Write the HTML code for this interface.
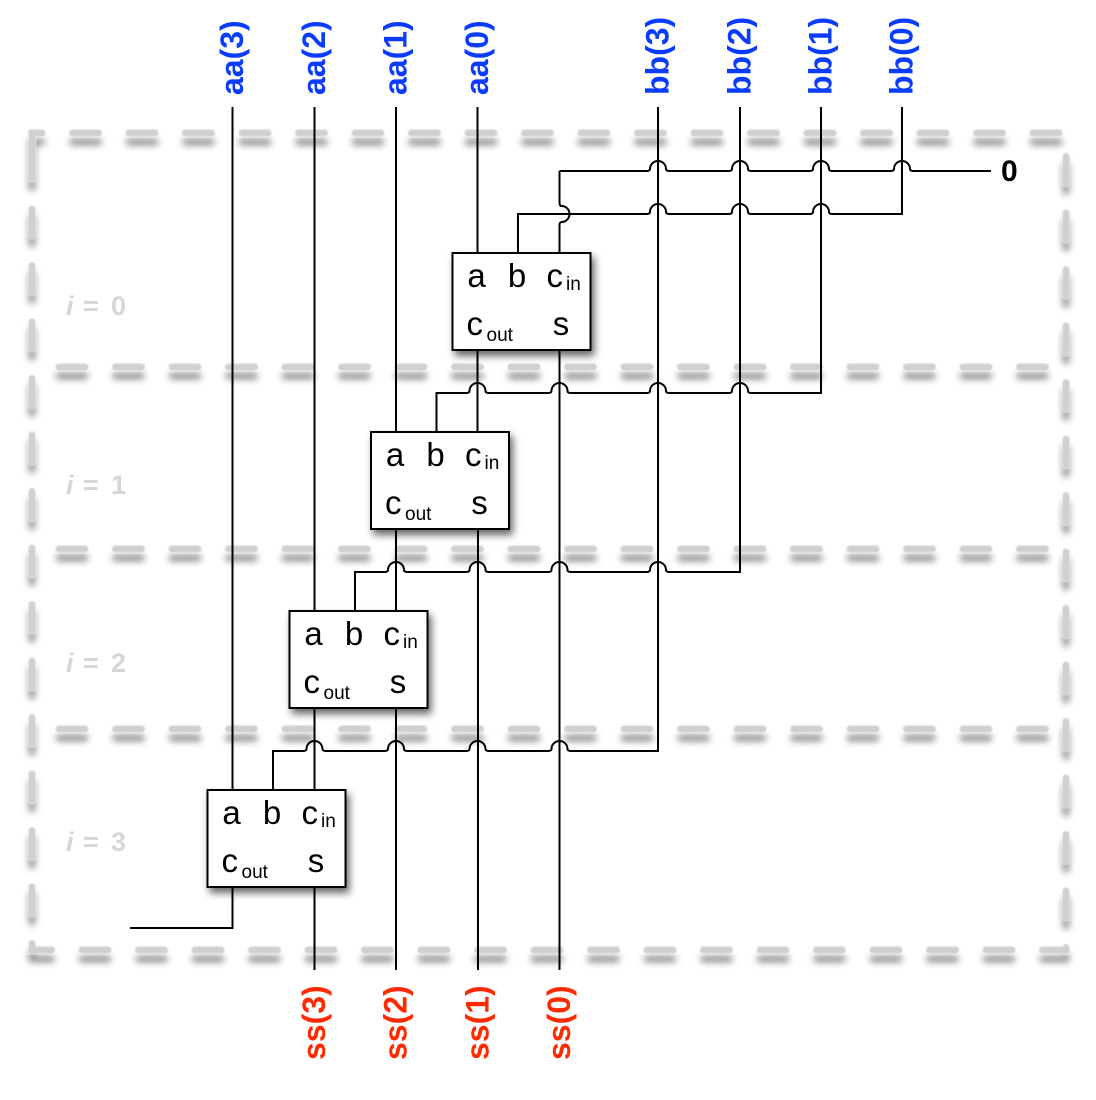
<!DOCTYPE html>
<html><head><meta charset="utf-8"><style>
html,body{margin:0;padding:0;background:#fff;}
svg{display:block;}
text{font-family:"Liberation Sans",Arial,sans-serif;}
</style></head><body>
<svg width="1096" height="1100" viewBox="0 0 1096 1100" xmlns="http://www.w3.org/2000/svg">
<defs>
<filter id="ds" filterUnits="userSpaceOnUse" x="0" y="0" width="1096" height="1100">
<feGaussianBlur in="SourceAlpha" stdDeviation="3.5" result="b"/>
<feOffset in="b" dx="0" dy="9" result="o"/>
<feFlood flood-color="#000" flood-opacity="0.42"/>
<feComposite in2="o" operator="in" result="sh"/>
<feGaussianBlur in="SourceGraphic" stdDeviation="0.9" result="sg"/>
<feMerge><feMergeNode in="sh"/><feMergeNode in="sg"/></feMerge>
</filter>
<filter id="bs" filterUnits="userSpaceOnUse" x="0" y="0" width="1096" height="1100">
<feGaussianBlur in="SourceAlpha" stdDeviation="4" result="b"/>
<feOffset in="b" dx="3" dy="5" result="o"/>
<feFlood flood-color="#000" flood-opacity="0.6"/>
<feComposite in2="o" operator="in" result="sh"/>
<feMerge><feMergeNode in="sh"/><feMergeNode in="SourceGraphic"/></feMerge>
</filter>
</defs>

<!-- dashed frames -->
<g filter="url(#ds)" fill="none" stroke="#d0d0d0" stroke-width="7" stroke-linecap="round" stroke-dasharray="26 30.5">
<path d="M 32 149 V 133 H 1066 V 950 H 32 Z"/>
<path d="M 59 367 H 1046"/>
<path d="M 59 549 H 1046"/>
<path d="M 59 729 H 1046"/>
</g>

<!-- i labels -->
<g fill="#d6d6d6" font-weight="bold" font-size="27">
<text x="66" y="315" font-style="italic">i</text><text x="83" y="315">=</text><text x="111" y="315">0</text>
<text x="66" y="494" font-style="italic">i</text><text x="83" y="494">=</text><text x="111" y="494">1</text>
<text x="66" y="672" font-style="italic">i</text><text x="83" y="672">=</text><text x="111" y="672">2</text>
<text x="66" y="851" font-style="italic">i</text><text x="83" y="851">=</text><text x="111" y="851">3</text>
</g>

<!-- wires -->
<g fill="none" stroke="#000" stroke-width="2">
<path d="M 232.5 107 V 790"/>
<path d="M 314.5 107 V 611"/>
<path d="M 396 107 V 432"/>
<path d="M 477.5 107 V 253"/>
<path d="M 477.5 350 V 432"/>
<path d="M 559.5 350 V 970"/>
<path d="M 396 529 V 611"/>
<path d="M 478 529 V 970"/>
<path d="M 314.5 708 V 790"/>
<path d="M 396 708 V 970"/>
<path d="M 232.5 887 V 928 H 130"/>
<path d="M 314.5 887 V 970"/>

<path d="M 559.5 171 H 646 Q 650 171 650 169 A 8 8 0 0 1 666 169 Q 666 171 670 171 H 728 Q 732 171 732 169 A 8 8 0 0 1 748 169 Q 748 171 752 171 H 809 Q 813 171 813 169 A 8 8 0 0 1 829 169 Q 829 171 833 171 H 890 Q 894 171 894 169 A 8 8 0 0 1 910 169 Q 910 171 914 171 H 991"/>
<path d="M 559.5 171 V 202 Q 559.5 206 561.5 206 A 8 8 0 0 1 561.5 222 Q 559.5 222 559.5 226 V 253"/>

<path d="M 518 253 V 214 H 646 Q 650 214 650 212 A 8 8 0 0 1 666 212 Q 666 214 670 214 H 728 Q 732 214 732 212 A 8 8 0 0 1 748 212 Q 748 214 752 214 H 809 Q 813 214 813 212 A 8 8 0 0 1 829 212 Q 829 214 833 214 H 902 V 107"/>

<path d="M 436.5 432 V 393 H 465.5 Q 469.5 393 469.5 391 A 8 8 0 0 1 485.5 391 Q 485.5 393 489.5 393 H 547.5 Q 551.5 393 551.5 391 A 8 8 0 0 1 567.5 391 Q 567.5 393 571.5 393 H 646 Q 650 393 650 391 A 8 8 0 0 1 666 391 Q 666 393 670 393 H 728 Q 732 393 732 391 A 8 8 0 0 1 748 391 Q 748 393 752 393 H 821 V 107"/>

<path d="M 355 611 V 572 H 384 Q 388 572 388 570 A 8 8 0 0 1 404 570 Q 404 572 408 572 H 465.5 Q 469.5 572 469.5 570 A 8 8 0 0 1 485.5 570 Q 485.5 572 489.5 572 H 547.5 Q 551.5 572 551.5 570 A 8 8 0 0 1 567.5 570 Q 567.5 572 571.5 572 H 646 Q 650 572 650 570 A 8 8 0 0 1 666 570 Q 666 572 670 572 H 740 V 107"/>

<path d="M 273 790 V 751 H 302.5 Q 306.5 751 306.5 749 A 8 8 0 0 1 322.5 749 Q 322.5 751 326.5 751 H 384 Q 388 751 388 749 A 8 8 0 0 1 404 749 Q 404 751 408 751 H 465.5 Q 469.5 751 469.5 749 A 8 8 0 0 1 485.5 749 Q 485.5 751 489.5 751 H 547.5 Q 551.5 751 551.5 749 A 8 8 0 0 1 567.5 749 Q 567.5 751 571.5 751 H 658 V 107"/>
</g>

<!-- blocks -->
<g filter="url(#bs)">
<rect x="452.5" y="253" width="138" height="97" fill="#fff" stroke="#000" stroke-width="2"/>
<rect x="371" y="432" width="138" height="97" fill="#fff" stroke="#000" stroke-width="2"/>
<rect x="289.5" y="611" width="138" height="97" fill="#fff" stroke="#000" stroke-width="2"/>
<rect x="207.5" y="790" width="138" height="97" fill="#fff" stroke="#000" stroke-width="2"/>
</g>

<g fill="#000" font-size="33">
<!-- block 0 (L=452.5,T=253) -->
<text x="476.5" y="287" text-anchor="middle">a</text>
<text x="517" y="287" text-anchor="middle">b</text>
<text x="546.5" y="287">c</text><text x="566" y="290" font-size="19">in</text>
<text x="466.5" y="335">c</text><text x="486.5" y="341" font-size="19">out</text>
<text x="561" y="335" text-anchor="middle">s</text>
<!-- block 1 (L=371,T=432) -->
<text x="395" y="466" text-anchor="middle">a</text>
<text x="435.5" y="466" text-anchor="middle">b</text>
<text x="465" y="466">c</text><text x="484.5" y="469" font-size="19">in</text>
<text x="385" y="514">c</text><text x="405" y="520" font-size="19">out</text>
<text x="479.5" y="514" text-anchor="middle">s</text>
<!-- block 2 (L=289.5,T=611) -->
<text x="313.5" y="645" text-anchor="middle">a</text>
<text x="354" y="645" text-anchor="middle">b</text>
<text x="383.5" y="645">c</text><text x="403" y="648" font-size="19">in</text>
<text x="303.5" y="693">c</text><text x="323.5" y="699" font-size="19">out</text>
<text x="398" y="693" text-anchor="middle">s</text>
<!-- block 3 (L=207.5,T=790) -->
<text x="231.5" y="824" text-anchor="middle">a</text>
<text x="272" y="824" text-anchor="middle">b</text>
<text x="301.5" y="824">c</text><text x="321" y="827" font-size="19">in</text>
<text x="221.5" y="872">c</text><text x="241.5" y="878" font-size="19">out</text>
<text x="316" y="872" text-anchor="middle">s</text>
</g>

<text x="1001" y="181" font-size="30" font-weight="bold" fill="#000">0</text>

<!-- top labels -->
<g fill="#0a3cff" font-size="32" font-weight="bold">
<text transform="translate(243,95) rotate(-90)">aa(3)</text>
<text transform="translate(325,95) rotate(-90)">aa(2)</text>
<text transform="translate(406.5,95) rotate(-90)">aa(1)</text>
<text transform="translate(488,95) rotate(-90)">aa(0)</text>
<text transform="translate(668.5,95) rotate(-90)">bb(3)</text>
<text transform="translate(750.5,95) rotate(-90)">bb(2)</text>
<text transform="translate(831.5,95) rotate(-90)">bb(1)</text>
<text transform="translate(912.5,95) rotate(-90)">bb(0)</text>
</g>

<!-- bottom labels -->
<g fill="#ff2a00" font-size="32" font-weight="bold">
<text transform="translate(325,1060) rotate(-90)">ss(3)</text>
<text transform="translate(406.5,1060) rotate(-90)">ss(2)</text>
<text transform="translate(488.5,1060) rotate(-90)">ss(1)</text>
<text transform="translate(570,1060) rotate(-90)">ss(0)</text>
</g>
</svg>
</body></html>
